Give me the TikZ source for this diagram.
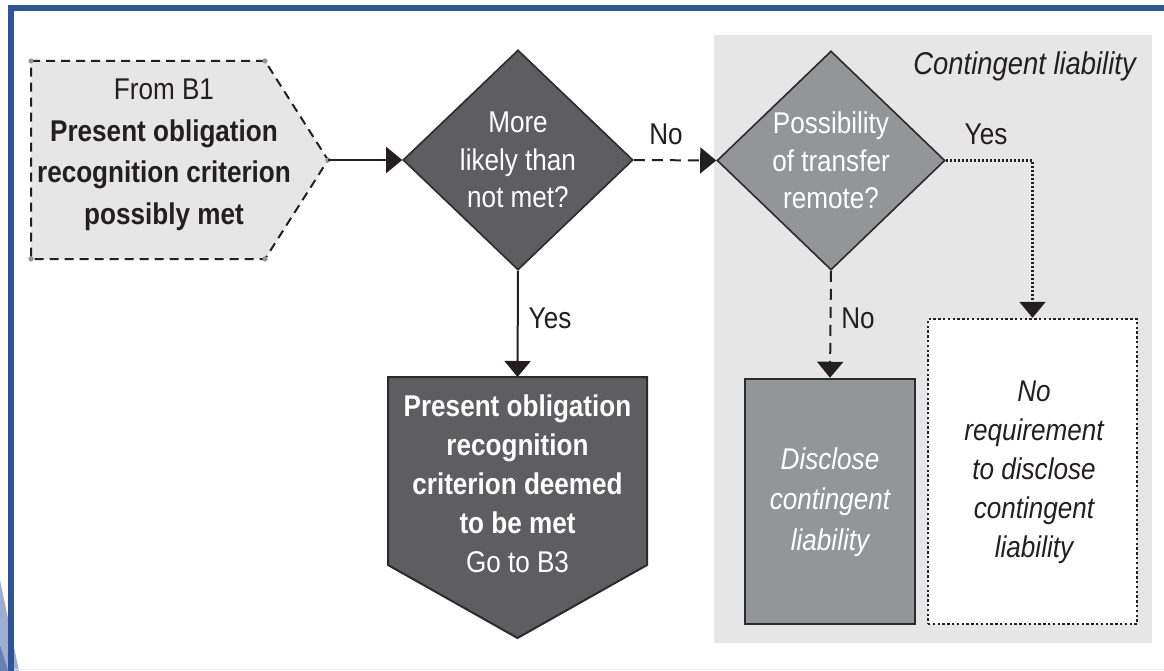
\documentclass[tikz,border=0pt]{standalone}
\usepackage{fontspec}
\setmainfont{Liberation Sans}[FakeStretch=0.87]
\usetikzlibrary{shapes.geometric,arrows.meta}

\definecolor{frameblue}{HTML}{2F5597}
\definecolor{paleblue}{HTML}{9DAED0}
\definecolor{midblue}{HTML}{6680B4}
\definecolor{inkdark}{HTML}{231F20}
\definecolor{darkgrey}{HTML}{5E5D60}
\definecolor{midgrey}{HTML}{939598}
\definecolor{palegrey}{HTML}{E6E6E6}
\definecolor{edgegrey}{HTML}{2B2A2C}

\tikzset{
  txt/.style={font=\fontsize{30}{39}\selectfont, align=center, inner sep=0pt},
  diatxt/.style={font=\fontsize{30}{37.5}\selectfont, align=center, inner sep=0pt},
  decision/.style={diamond, draw=edgegrey, line width=1.6pt, inner sep=0pt,
    minimum width=230, minimum height=220, text=white, diatxt},
  flowline/.style={draw=inkdark, line width=2pt, -{Triangle[width=26pt,length=16pt]}},
  dashline/.style={flowline, dash pattern=on 11pt off 7pt},
  dotline/.style={flowline, line width=2.2pt, dash pattern=on 2pt off 2pt},
  edgelabel/.style={font=\fontsize{30}{36}\selectfont, text=inkdark, inner sep=0pt},
  cornerdot/.style={fill=midgrey, draw=none},
}

\begin{document}
\begin{tikzpicture}[x=1pt, y=-1pt]
\useasboundingbox (0,0) rectangle (1164,671);
\fill[white] (0,0) rectangle (1164,671);

% page frame and corner ornament
\fill[paleblue] (0,580) -- (19,671) -- (0,671) -- cycle;
\fill[midblue] (0,645) -- (8,671) -- (0,671) -- cycle;
\draw[line width=0.8pt, color={rgb,255:red,236;green,236;blue,244}] (14,669.5) -- (1164,669.5);
\draw[frameblue, line width=6pt] (11,671) -- (11,8) -- (1164,8);

% contingent liability panel
\fill[palegrey] (714,35) rectangle (1152,643);
\node[font=\fontsize{31.5}{36}\selectfont\itshape, text=inkdark, anchor=east, inner sep=0pt]
  (panel) at (1136,66) {Contingent liability};

% incoming link from B1
\path[fill=palegrey, draw=inkdark, line width=2pt, dash pattern=on 9pt off 6pt]
  (31,61) -- (265,61) -- (328,160) -- (265,259) -- (31,259) -- cycle;
\foreach \p in {(31,61),(265,61),(328,160),(265,259),(31,259)}
  \fill[cornerdot] \p circle (2.6);
\node[txt, text=inkdark, font=\fontsize{30}{41.5}\selectfont] (src) at (164,155)
  {From B1\\ \textbf{Present obligation}\\ \textbf{recognition criterion}\\ \textbf{possibly met}};
\coordinate (srctip) at (328,160);

% decisions
\node[decision, fill=darkgrey] (d1) at (518,160) {More\\likely than\\not met?};
\node[decision, fill=midgrey, minimum width=228, minimum height=219] (d2) at (831,160.5)
  {Possibility\\of transfer\\remote?};

% outcome: present obligation deemed met
\path[fill=darkgrey, draw=edgegrey, line width=2pt]
  (388,377) -- (647,377) -- (647,565) -- (517.5,638) -- (388,565) -- cycle;
\node[txt, text=white] (res) at (517.5,484)
  {\textbf{Present obligation}\\ \textbf{recognition}\\ \textbf{criterion deemed}\\ \textbf{to be met}\\ Go to B3};
\coordinate (restop) at (517.5,377);

% outcome: disclose
\node[draw=edgegrey, line width=2.5pt, fill=midgrey, minimum width=170, minimum height=245,
  inner sep=0pt] (disc) at (830,501.5) {};
\node[txt, text=white, font=\fontsize{30}{40.5}\selectfont\itshape] (disctxt) at (830,502)
  {Disclose\\contingent\\liability};

% outcome: no disclosure
\node[draw=inkdark, line width=2.4pt, dash pattern=on 2.4pt off 2.4pt, fill=white,
  minimum width=209, minimum height=305, inner sep=0pt] (nodisc) at (1032.5,471.5) {};
\node[txt, text=inkdark, font=\fontsize{30}{39}\selectfont\itshape] (nodisctxt) at (1034,472)
  {No\\requirement\\to disclose\\contingent\\liability};

% connectors
\draw[flowline] (srctip) -- (d1.west);
\draw[dashline] (d1.east) -- (d2.west);
\draw[flowline] (d1.south) -- (restop);
\draw[dashline] (d2.south) -- (disc.north);
\draw[dotline] (d2.east) -| (nodisc.north);

% connector labels
\node[edgelabel] (lno1) at (666,134) {No};
\node[edgelabel] (lyes1) at (550,318) {Yes};
\node[edgelabel] (lyes2) at (986,134) {Yes};
\node[edgelabel] (lno2) at (858,318) {No};
\end{tikzpicture}
\end{document}
